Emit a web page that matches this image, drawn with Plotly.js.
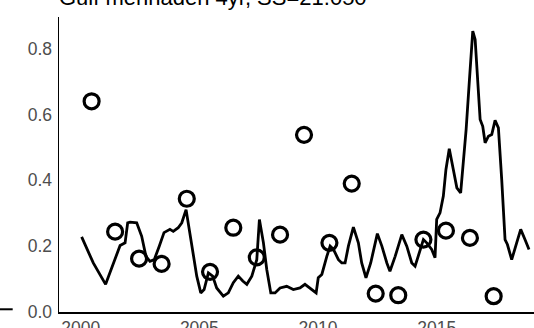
<!DOCTYPE html>
<html>
<head>
<meta charset="utf-8">
<script src="https://cdn.plot.ly/plotly-3.0.1.min.js"></script>
<style>html,body{margin:0;padding:0;background:#fff;}#chart{width:534px;height:328px;}</style>
</head>
<body>
<div id="chart"></div>
<script>
// Observed index (open circles)
const obsYears = [2000.46, 2001.45, 2002.46, 2003.41, 2004.47, 2005.45, 2006.43, 2007.42, 2008.40,
                  2009.41, 2010.48, 2011.42, 2012.43, 2013.38, 2014.44, 2015.39, 2016.40, 2017.40];
const obsValues = [0.640, 0.244, 0.162, 0.146, 0.344, 0.122, 0.256, 0.166, 0.235,
                   0.538, 0.210, 0.390, 0.056, 0.051, 0.220, 0.247, 0.225, 0.048];

// Fitted / predicted series (line)
const fitTime = [2000.04, 2000.53, 2001.05, 2001.37, 2001.66, 2001.87, 2001.98, 2002.08, 2002.36, 2002.57,
                 2002.75, 2002.92, 2003.10, 2003.31, 2003.51, 2003.76, 2003.90, 2004.11, 2004.26, 2004.44,
                 2004.68, 2004.89, 2005.06, 2005.20, 2005.38, 2005.56, 2005.73, 2006.01, 2006.22, 2006.43,
                 2006.64, 2006.83, 2007.00, 2007.21, 2007.42, 2007.53, 2007.70, 2007.84, 2008.01, 2008.19,
                 2008.40, 2008.68, 2008.96, 2009.24, 2009.45, 2009.66, 2009.92, 2010.01, 2010.16, 2010.37,
                 2010.51, 2010.65, 2010.86, 2011.00, 2011.14, 2011.28, 2011.49, 2011.70, 2011.84, 2012.02,
                 2012.22, 2012.50, 2012.69, 2012.90, 2013.03, 2013.25, 2013.53, 2013.74, 2013.95, 2014.09,
                 2014.23, 2014.44, 2014.58, 2014.79, 2014.93, 2015.00, 2015.14, 2015.28, 2015.39, 2015.53,
                 2015.70, 2015.85, 2016.01, 2016.12, 2016.24, 2016.38, 2016.48, 2016.52, 2016.62, 2016.71,
                 2016.83, 2016.94, 2017.04, 2017.18, 2017.32, 2017.46, 2017.60, 2017.74, 2017.88, 2017.98,
                 2018.16, 2018.37, 2018.54, 2018.72, 2018.89];
const fitValues = [0.228, 0.149, 0.084, 0.149, 0.202, 0.210, 0.271, 0.273, 0.271, 0.230,
                   0.169, 0.154, 0.159, 0.200, 0.241, 0.251, 0.245, 0.256, 0.271, 0.311,
                   0.200, 0.109, 0.058, 0.068, 0.119, 0.109, 0.073, 0.048, 0.058, 0.089,
                   0.109, 0.094, 0.084, 0.109, 0.159, 0.281, 0.210, 0.129, 0.058, 0.058,
                   0.073, 0.078, 0.068, 0.073, 0.084, 0.073, 0.058, 0.104, 0.114, 0.169,
                   0.200, 0.190, 0.159, 0.149, 0.149, 0.200, 0.258, 0.210, 0.149, 0.104,
                   0.149, 0.238, 0.200, 0.149, 0.124, 0.169, 0.235, 0.200, 0.149, 0.139,
                   0.169, 0.220, 0.210, 0.190, 0.165, 0.281, 0.301, 0.352, 0.433, 0.496,
                   0.433, 0.377, 0.362, 0.453, 0.554, 0.706, 0.838, 0.853, 0.828, 0.706,
                   0.585, 0.564, 0.514, 0.534, 0.539, 0.582, 0.559, 0.402, 0.220, 0.205,
                   0.159, 0.210, 0.251, 0.220, 0.190];

const xTickVals = [2000, 2005, 2010, 2015];
const xTickText = ['2000', '2005', '2010', '2015'];
const yTickVals = [0, 0.2, 0.4, 0.6, 0.8];
const yTickText = ['0.0', '0.2', '0.4', '0.6', '0.8'];
const titleText = 'Gulf menhaden 4yr, SS=21.050';

const traces = [
  {
    x: fitTime, y: fitValues, type: 'scatter', mode: 'lines',
    line: {color: '#000000', width: 2.8}, hoverinfo: 'skip', showlegend: false
  },
  {
    x: obsYears, y: obsValues, type: 'scatter', mode: 'markers',
    marker: {symbol: 'circle-open', size: 15, color: '#000000', line: {width: 3.2, color: '#000000'}},
    hoverinfo: 'skip', showlegend: false
  }
];

const tickFont = {family: 'Liberation Sans, Arial, sans-serif', size: 17.5, color: '#4d4d4d'};

const layout = {
  width: 534, height: 328,
  margin: {l: 59, r: 0, t: 17, b: 16, pad: 0},
  paper_bgcolor: '#ffffff', plot_bgcolor: '#ffffff',
  showlegend: false,
  title: {
    text: titleText,
    font: {family: 'Liberation Sans, Arial, sans-serif', size: 22, color: '#000000'},
    xref: 'paper', x: 0, xanchor: 'left',
    yref: 'container', y: 0.985, yanchor: 'bottom'
  },
  xaxis: {
    range: [1999.086, 2019.10],
    tickvals: xTickVals, ticktext: xTickText,
    showgrid: false, zeroline: false,
    showline: true, linecolor: '#000000', linewidth: 1.5,
    ticks: '', tickfont: tickFont, ticklabelstandoff: -1
  },
  yaxis: {
    range: [0, 0.896],
    tickvals: yTickVals, ticktext: yTickText,
    showgrid: false, zeroline: false,
    showline: true, linecolor: '#000000', linewidth: 1.5,
    ticks: '', tickfont: tickFont, ticklabelstandoff: 2
  },
  shapes: [
    {type: 'line', xref: 'paper', yref: 'paper', x0: -0.1242, x1: -0.0975, y0: 0.0092, y1: 0.0092,
     line: {color: '#000000', width: 2}}
  ]
};

Plotly.newPlot('chart', traces, layout, {staticPlot: true, displayModeBar: false});
</script>
</body>
</html>
